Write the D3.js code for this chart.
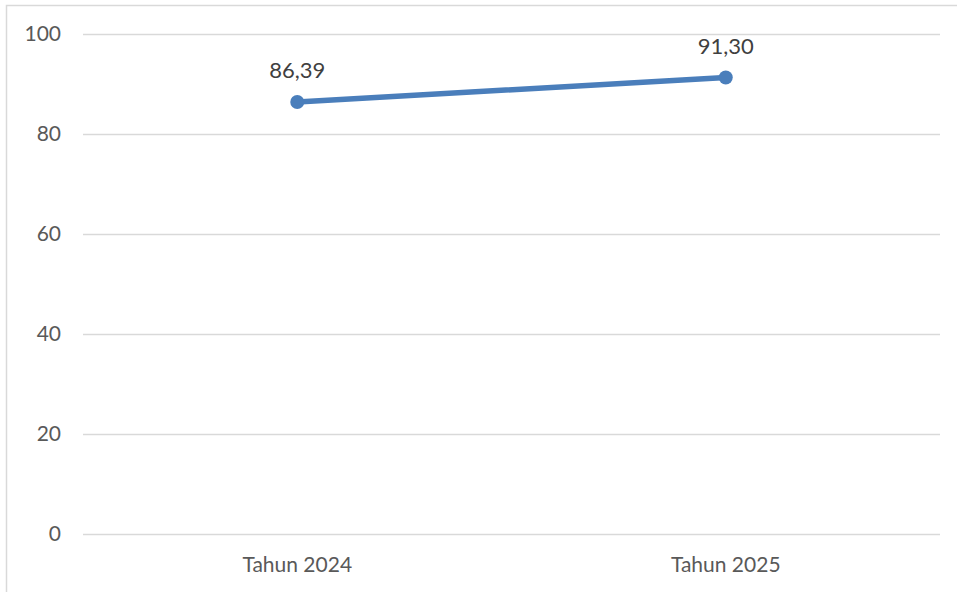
<!DOCTYPE html>
<html><head><meta charset="utf-8">
<script src="https://cdn.jsdelivr.net/npm/d3@7"></script>
<style>body{margin:0;background:#fff;}svg{display:block;}</style>
</head><body>
<svg id="c" width="957" height="592"></svg>
<script>
const categories = ["Tahun 2024", "Tahun 2025"];
const values = [86.39, 91.30];
const valueLabels = ["86,39", "91,30"];
const yTicks = [0, 20, 40, 60, 80, 100];

const svg = d3.select("#c");
const W = 957, H = 592;
const m = {left: 83, right: 17, top: 34, bottom: 58};
const font = "Lato, 'Open Sans', sans-serif";

svg.append("rect").attr("x", 6.5).attr("y", 5.5).attr("width", W).attr("height", H)
  .attr("fill", "none").attr("stroke", "#d9d9d9").attr("stroke-width", 1.5);

const x = d3.scaleBand().domain(categories).range([m.left, W - m.right]);
const y = d3.scaleLinear().domain([0, 100]).range([H - m.bottom, m.top]);

const yAxis = d3.axisLeft(y).tickValues(yTicks).tickSize(-(W - m.left - m.right)).tickPadding(22);
const gy = svg.append("g").attr("transform", `translate(${m.left},0)`).call(yAxis);
gy.select(".domain").remove();
gy.selectAll(".tick line").attr("stroke", "#d9d9d9").attr("stroke-width", 1.5);
gy.selectAll(".tick text").attr("fill", "#595959").style("font-family", font).style("font-size", "21px");

const xAxis = d3.axisBottom(x).tickSize(0).tickPadding(23);
const gx = svg.append("g").attr("transform", `translate(0,${H - m.bottom})`).call(xAxis);
gx.select(".domain").remove();
gx.selectAll(".tick text").attr("fill", "#595959").style("font-family", font).style("font-size", "21px");

const data = categories.map((c, i) => ({c, v: values[i], l: valueLabels[i]}));
const line = d3.line().x(d => x(d.c) + x.bandwidth() / 2).y(d => y(d.v));
svg.append("path").datum(data).attr("d", line).attr("fill", "none")
  .attr("stroke", "#4a7ebb").attr("stroke-width", 5.5).attr("stroke-linecap", "round");
svg.selectAll("circle.pt").data(data).join("circle").attr("class", "pt")
  .attr("cx", d => x(d.c) + x.bandwidth() / 2).attr("cy", d => y(d.v)).attr("r", 7)
  .attr("fill", "#4a7ebb");
svg.selectAll("text.lbl").data(data).join("text").attr("class", "lbl")
  .attr("x", d => x(d.c) + x.bandwidth() / 2).attr("y", d => y(d.v) - 24)
  .attr("text-anchor", "middle").attr("fill", "#404040")
  .style("font-family", font).style("font-size", "22px").text(d => d.l);
</script>
</body></html>
